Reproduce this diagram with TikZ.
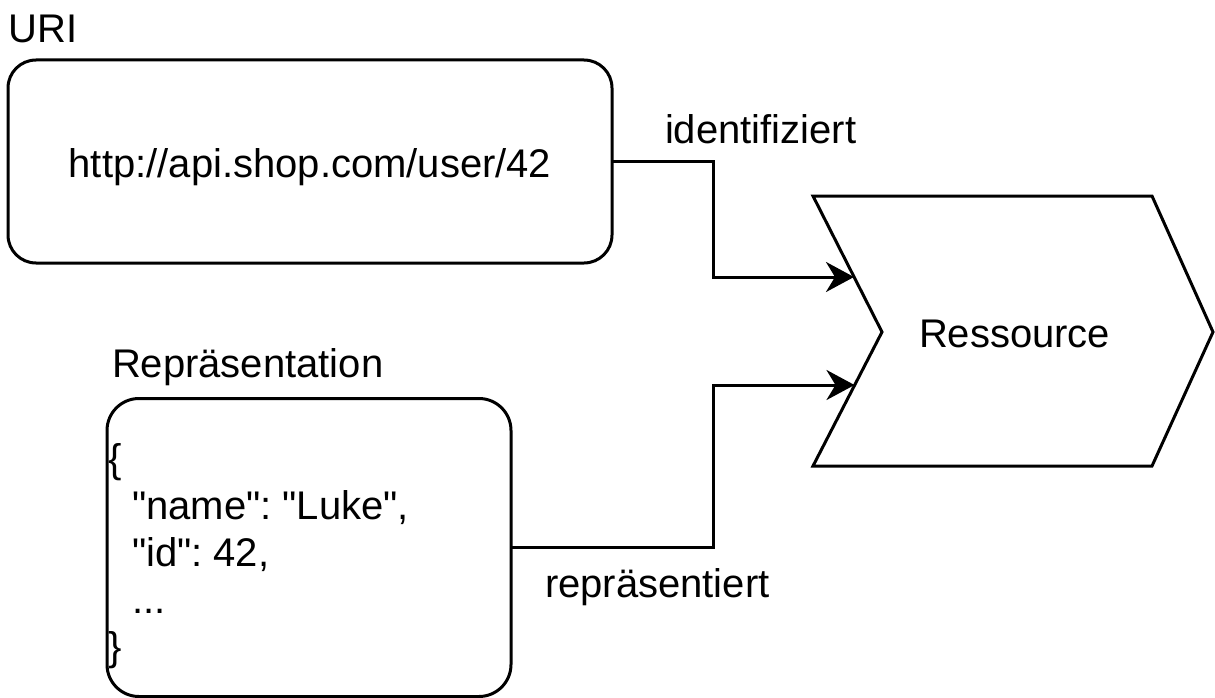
\documentclass[tikz,border=0pt]{standalone}
\usepackage{fontspec}
\setmainfont{Liberation Sans}[Ligatures=TeXOff]
\usetikzlibrary{arrows.meta}
\frenchspacing
\begin{document}
\begin{tikzpicture}[x=1pt,y=-1pt,
  line width=3pt,
  lbl/.style={inner sep=0pt, outer sep=0pt, font=\fontsize{40}{47}\selectfont\frenchspacing},
  box/.style={draw, rounded corners=#1, inner sep=0pt, outer sep=0pt},
  arr/.style={-{Stealth[length=28pt,width=30pt,inset=9pt]}, line width=3pt}
]
\useasboundingbox (0,0) rectangle (1215,698);

% URI box
\node[lbl, anchor=base west] (urilbl) at (9,43) {URI};
\node[box=28pt, minimum width=604pt, minimum height=203pt] (uri) at (310,161.5) {};
\node[lbl, anchor=base] (url) at (310,177) {http://api.shop.com/user/42};

% Representation box
\node[lbl, anchor=base west] (replbl) at (112,377) {Repräsentation};
\node[box=32pt, minimum width=404pt, minimum height=298pt] (rep) at (309,547.5) {};
\node[lbl, anchor=base west, align=left] (json) at (108,660)
  {\{\\\hspace*{24pt}"name": "Luke",\\\hspace*{24pt}"id": 42,\\\hspace*{24pt}...\\\}};

% Resource shape
\coordinate (r1) at (813,196);
\coordinate (r2) at (1152,196);
\coordinate (r3) at (1213,332);
\coordinate (r4) at (1152,466);
\coordinate (r5) at (813,466);
\coordinate (r6) at (882,332);
\draw[line join=miter] (r1) -- (r2) -- (r3) -- (r4) -- (r5) -- (r6) -- cycle;
\node[lbl, anchor=base west] (res) at (919,347) {Ressource};
\coordinate (in1) at (854,277);
\coordinate (in2) at (854.5,385);

% connectors
\draw[arr] (uri.east) -- ++(101,0) |- (in1);
\draw[arr] (rep.east) -- ++(202,0) |- (in2);
\node[lbl, anchor=base west] (idlbl) at (665,143) {identifiziert};
\node[lbl, anchor=base west] (replbl2) at (545,597) {repräsentiert};
\end{tikzpicture}
\end{document}
